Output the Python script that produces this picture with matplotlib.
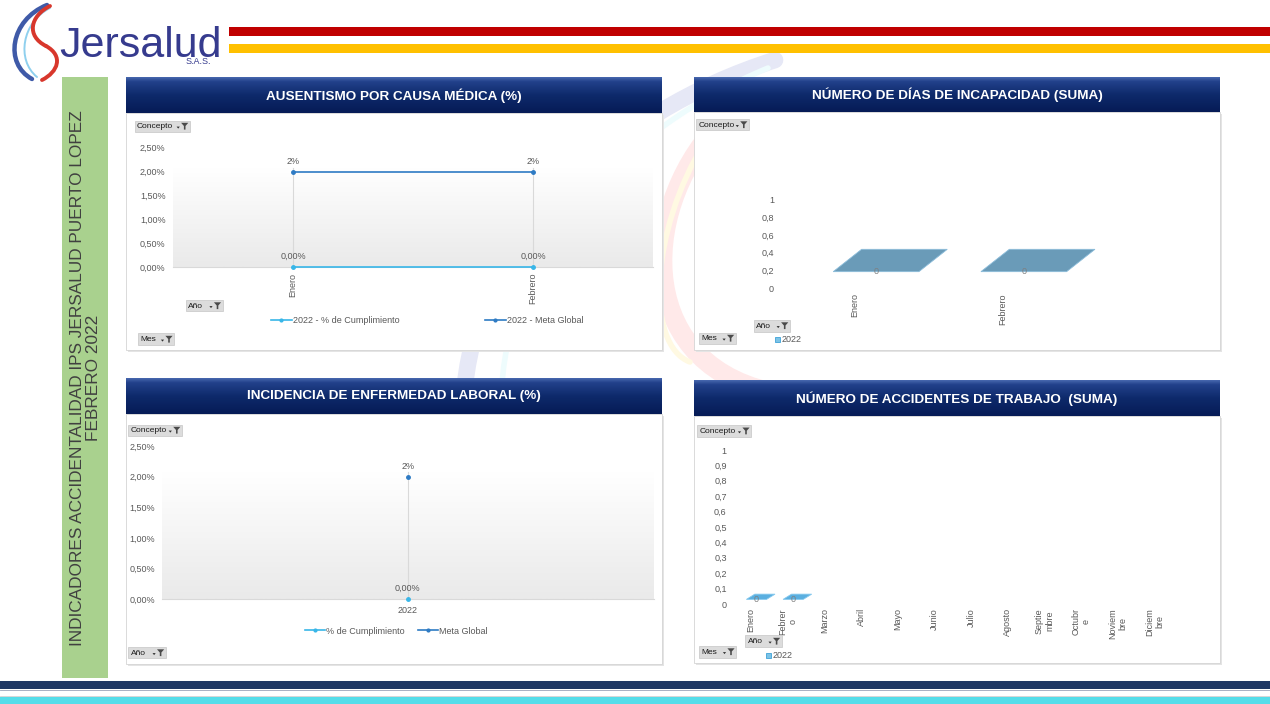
import matplotlib
matplotlib.use('Agg')
import matplotlib.pyplot as plt
import numpy as np
from matplotlib.patches import Rectangle, Polygon, PathPatch, Patch
from matplotlib.path import Path
from matplotlib.colors import LinearSegmentedColormap

plt.rcParams['font.family'] = ['Liberation Sans', 'DejaVu Sans']

# --- DATA ---
meses_ausentismo = ['Enero', 'Febrero']
ausentismo_cumplimiento = [0.0, 0.0]
ausentismo_meta = [0.02, 0.02]

meses_incapacidad = ['Enero', 'Febrero']
dias_incapacidad = [0, 0]

anios_incidencia = ['2022']
incidencia_cumplimiento = [0.0]
incidencia_meta = [0.02]

meses_accidentes = ['Enero', 'Febrer\no', 'Marzo', 'Abril', 'Mayo', 'Junio', 'Julio',
                    'Agosto', 'Septie\nmbre', 'Octubr\ne', 'Noviem\nbre', 'Diciem\nbre']
accidentes_trabajo = [0, 0]  # solo Enero y Febrero tienen dato

ticks_pct = [0, 0.005, 0.01, 0.015, 0.02, 0.025]
ticks_incapacidad = [0, 0.2, 0.4, 0.6, 0.8, 1]
ticks_accidentes = [0, 0.1, 0.2, 0.3, 0.4, 0.5, 0.6, 0.7, 0.8, 0.9, 1]

titulos = ['AUSENTISMO POR CAUSA MÉDICA (%)',
           'NÚMERO DE DÍAS DE INCAPACIDAD (SUMA)',
           'INCIDENCIA DE ENFERMEDAD LABORAL (%)',
           'NÚMERO DE ACCIDENTES DE TRABAJO  (SUMA)']

W, H = 1270, 704
GRIS_TXT = '#595959'
C_CUMPL = '#38B6E8'
C_META = '#2E7BC4'

fig = plt.figure(figsize=(12.7, 7.04), dpi=100, facecolor='white')

# background axes in pixel coordinates (y down)
bg = fig.add_axes([0, 0, 1, 1], zorder=0)
top = fig.add_axes([0, 0, 1, 1], zorder=5)
for a in (bg, top):
    a.set_xlim(0, W)
    a.set_ylim(H, 0)
    a.axis('off')


def ax_px(x0, y0, x1, y1):
    ax = fig.add_axes([x0 / W, 1 - y1 / H, (x1 - x0) / W, (y1 - y0) / H], zorder=2)
    ax.set_facecolor('none')
    for s in ax.spines.values():
        s.set_visible(False)
    ax.tick_params(length=0, labelsize=6.5, colors=GRIS_TXT)
    return ax


def bezier(ax, pts, color, lw, z=1):
    codes = [Path.MOVETO] + [Path.CURVE4] * (len(pts) - 1)
    ax.add_patch(PathPatch(Path(pts, codes), facecolor='none', edgecolor=color,
                           lw=lw, capstyle='round', zorder=z))


def header(x0, y0, x1, y1, titulo):
    cmap = LinearSegmentedColormap.from_list('hdr', [(0, '#4767AD'), (0.12, '#22418B'),
                                                    (0.5, '#0E2A6B'), (1, '#061B56')])
    grad = np.linspace(0, 1, 64).reshape(-1, 1)
    bg.imshow(grad, cmap=cmap, extent=(x0, x1, y1, y0), aspect='auto', zorder=2)
    bg.text((x0 + x1) / 2, (y0 + y1) / 2 + 0.5, titulo, color='white', fontsize=9.7,
            fontweight='bold', ha='center', va='center', zorder=3)


def panel(x0, y0, x1, y1):
    bg.add_patch(Rectangle((x0 + 1.5, y0 + 1.5), x1 - x0, y1 - y0, facecolor='#E4E4E4',
                           edgecolor='none', zorder=1))
    bg.add_patch(Rectangle((x0, y0), x1 - x0, y1 - y0, facecolor='white',
                           edgecolor='#D4D4D4', lw=0.6, zorder=1.1))


def boton(x0, y0, x1, y1, texto):
    yc = (y0 + y1) / 2
    top.add_patch(Rectangle((x0, y0), x1 - x0, y1 - y0, facecolor='#DCDCDC',
                            edgecolor='#C6C6C6', lw=0.5))
    top.text(x0 + 2.5, yc + 0.6, texto, fontsize=6, color='#1A1A1A', ha='left', va='center')
    # small arrow and funnel icon
    xa = x1 - 11.5
    top.add_patch(Polygon([(xa - 1.6, yc + 0.6), (xa + 1.6, yc + 0.6), (xa, yc + 2.6)],
                          facecolor='#303030', edgecolor='none'))
    xf = x1 - 5
    top.add_patch(Polygon([(xf - 3.6, yc - 3.2), (xf + 3.6, yc - 3.2), (xf + 0.8, yc),
                           (xf + 0.8, yc + 3.6), (xf - 0.8, yc + 3.6), (xf - 0.8, yc)],
                          facecolor='#4A4A4A', edgecolor='none'))


def fmt_pct(v):
    return f'{v * 100:.2f}%'.replace('.', ',')


def fmt_dec(v):
    return f'{v:g}'.replace('.', ',')


def gradiente(ax, frac):
    cmap = LinearSegmentedColormap.from_list('pa', ['#FFFFFF', '#EAEAEA'])
    grad = np.linspace(0, 1, 64).reshape(-1, 1)
    ax.imshow(grad, cmap=cmap, extent=(0, 1, 0, frac), transform=ax.transAxes,
              aspect='auto', zorder=0)


def barra_plana(ax, xc, v, hw, depth, front, back, fc, ec):
    # flat 3D column (value 0) seen from above: a parallelogram
    pts = [(xc - hw, v + front), (xc + hw, v + front),
           (xc + hw + depth, v + back), (xc - hw + depth, v + back)]
    ax.add_patch(Polygon(pts, facecolor=fc, edgecolor=ec, lw=0.6, clip_on=False, zorder=3))
    ax.text(xc, v + front, f'{v}', fontsize=6.5, color='#7F7F7F', ha='center',
            va='center', zorder=4, clip_on=False)


# --- DECORATION ---
bg.add_patch(Rectangle((229, 27), W - 229, 9, facecolor='#C00000', edgecolor='none'))
bg.add_patch(Rectangle((229, 43.5), W - 229, 9, facecolor='#FFC000', edgecolor='none'))

# logo swoosh
bezier(bg, [(47, 5), (10, 20), (4, 64), (32, 79)], '#3F5AA8', 3.2)
bezier(bg, [(50, 8), (22, 22), (16, 60), (37, 77)], '#8FD0EE', 1.4)
bezier(bg, [(50, 6), (30, 16), (26, 36), (46, 46)], '#D8372C', 2.8)
bezier(bg, [(46, 46), (64, 56), (58, 72), (42, 80)], '#D8372C', 2.8)
bg.text(59, 57, 'Jersalud', fontsize=31, color='#363B8E', ha='left', va='baseline')
bg.text(186, 61.5, 'S.A.S.', fontsize=6.5, color='#363B8E', ha='left', va='center')

# faint watermark swoosh behind the panels
bezier(bg, [(775, 60), (610, 112), (480, 240), (465, 385)], '#E6E8F6', 12, z=0.5)
bezier(bg, [(768, 68), (625, 127), (510, 250), (502, 385)], '#EEFCFD', 4, z=0.5)
bezier(bg, [(725, 118), (640, 200), (630, 360), (770, 392)], '#FFE9E9', 14, z=0.5)
bezier(bg, [(705, 142), (650, 230), (645, 345), (690, 362)], '#FFF9E2', 4, z=0.5)

# green side band
bg.add_patch(Rectangle((62, 77), 46, 601, facecolor='#A9D18E', edgecolor='none'))
bg.text(85.5, 378, 'INDICADORES ACCIDENTALIDAD IPS JERSALUD PUERTO LOPEZ\nFEBRERO 2022',
        rotation=90, ha='center', va='center', multialignment='center', fontsize=12.4,
        color='#404040', linespacing=1.05)

# bottom bands
bg.add_patch(Rectangle((0, 681), W, 8, facecolor='#1F3864', edgecolor='none'))
bg.plot([0, W], [690, 690], color='#9AA3B8', lw=0.6)
bg.plot([0, W], [696.3, 696.3], color='#D0D0D0', lw=0.6)
bg.add_patch(Rectangle((0, 697), W, 7, facecolor='#55DDE9', edgecolor='none'))

# panels and headers
panel(126, 113, 662, 350)
panel(694, 112, 1220, 350)
panel(126, 414, 662, 664)
panel(694, 416, 1220, 663)
header(126, 77, 662, 113, titulos[0])
header(694, 77, 1220, 112, titulos[1])
header(126, 378, 662, 414, titulos[2])
header(694, 380, 1220, 416, titulos[3])

# --- CHART 1: AUSENTISMO ---
ax1 = ax_px(173, 147.7, 653, 267)
x1 = np.arange(len(meses_ausentismo))
gradiente(ax1, 0.83)
for xi in x1:
    ax1.axvline(xi, ymin=0, ymax=0.83, color='#D9D9D9', lw=0.8, zorder=1)
l_c, = ax1.plot(x1, ausentismo_cumplimiento, color=C_CUMPL, marker='o', ms=2.5, lw=1.2,
                zorder=3, clip_on=False)
l_m, = ax1.plot(x1, ausentismo_meta, color=C_META, marker='o', ms=2.5, lw=1.2, zorder=3)
for xi, v in zip(x1, ausentismo_meta):
    ax1.annotate(f'{v * 100:.0f}%', (xi, v), xytext=(0, 7), textcoords='offset points',
                 ha='center', va='center', fontsize=6.5, color=GRIS_TXT)
for xi, v in zip(x1, ausentismo_cumplimiento):
    ax1.annotate(fmt_pct(v), (xi, v), xytext=(0, 8), textcoords='offset points',
                 ha='center', va='center', fontsize=6.5, color=GRIS_TXT)
ax1.set_xlim(-0.5, len(x1) - 0.5)
ax1.set_ylim(0, 0.025)
ax1.set_yticks(ticks_pct, [fmt_pct(t) for t in ticks_pct])
ax1.set_xticks(x1, meses_ausentismo, rotation=90)
ax1.tick_params(axis='y', pad=5.3)
ax1.tick_params(axis='x', pad=4.3)
ax1.spines['bottom'].set_visible(True)
ax1.spines['bottom'].set_color('#D9D9D9')
ax1.spines['bottom'].set_linewidth(0.8)
ax1.legend([l_c, l_m], ['2022 - % de Cumplimiento', '2022 - Meta Global'], loc='center',
           bbox_to_anchor=(427, 320.7), bbox_transform=bg.transData, ncol=2, frameon=False,
           fontsize=6.5, handlelength=2.3, handletextpad=0.1, columnspacing=9.5,
           markerscale=0.8, labelcolor=GRIS_TXT)

boton(134.6, 120.5, 189.7, 131.5, 'Concepto')
boton(185.6, 300, 222.5, 311, 'Año')
boton(138, 333, 174, 345, 'Mes')

# --- CHART 2: DIAS DE INCAPACIDAD ---
ax2 = ax_px(780.8, 199.3, 1076.2, 288.3)
x2 = np.arange(len(meses_incapacidad))
for xi, v in zip(x2, dias_incapacidad):
    barra_plana(ax2, xi + 0.145, v, 0.29, 0.192, 0.187, 0.438, '#6A9BB8', '#8BBCDA')
ax2.set_xlim(-0.5, len(x2) - 0.5)
ax2.set_ylim(0, 1)
ax2.set_yticks(ticks_incapacidad, [fmt_dec(t) for t in ticks_incapacidad])
ax2.set_xticks(x2, meses_incapacidad, rotation=90)
ax2.tick_params(axis='y', pad=4.9)
ax2.tick_params(axis='x', pad=3.4)
ax2.legend([Patch(facecolor='#7CC3E6', edgecolor='#3FA3D8', lw=0.6)], ['2022'], loc='center',
           bbox_to_anchor=(788, 340), bbox_transform=bg.transData, frameon=False,
           fontsize=6.5, handlelength=0.55, handleheight=0.55, handletextpad=0.15,
           labelcolor=GRIS_TXT)

boton(695.7, 119, 748.8, 130, 'Concepto')
boton(753.9, 319.5, 789.7, 331.5, 'Año')
boton(699, 332.5, 735.6, 343.5, 'Mes')

# --- CHART 3: INCIDENCIA ENFERMEDAD LABORAL ---
ax3 = ax_px(162.2, 446, 653.6, 599.3)
x3 = np.arange(len(anios_incidencia))
gradiente(ax3, 0.83)
for xi in x3:
    ax3.axvline(xi, ymin=0, ymax=0.83, color='#D9D9D9', lw=0.8, zorder=1)
p_c, = ax3.plot(x3, incidencia_cumplimiento, color=C_CUMPL, marker='o', ms=2.5, lw=1.2,
                zorder=3, clip_on=False)
p_m, = ax3.plot(x3, incidencia_meta, color=C_META, marker='o', ms=2.5, lw=1.2, zorder=3)
for xi, v in zip(x3, incidencia_meta):
    ax3.annotate(f'{v * 100:.0f}%', (xi, v), xytext=(0, 7.6), textcoords='offset points',
                 ha='center', va='center', fontsize=6.5, color=GRIS_TXT)
for xi, v in zip(x3, incidencia_cumplimiento):
    ax3.annotate(fmt_pct(v), (xi, v), xytext=(0, 8), textcoords='offset points',
                 ha='center', va='center', fontsize=6.5, color=GRIS_TXT)
ax3.set_xlim(-0.5, len(x3) - 0.5)
ax3.set_ylim(0, 0.025)
ax3.set_yticks(ticks_pct, [fmt_pct(t) for t in ticks_pct])
ax3.set_xticks(x3, anios_incidencia)
ax3.tick_params(axis='y', pad=5)
ax3.tick_params(axis='x', pad=4.8)
ax3.spines['bottom'].set_visible(True)
ax3.spines['bottom'].set_color('#D9D9D9')
ax3.spines['bottom'].set_linewidth(0.8)
ax3.legend([p_c, p_m], ['% de Cumplimiento', 'Meta Global'], loc='center',
           bbox_to_anchor=(396, 631), bbox_transform=bg.transData, ncol=2, frameon=False,
           fontsize=6.5, handlelength=2.2, handletextpad=0.1, columnspacing=1.5,
           markerscale=0.8, labelcolor=GRIS_TXT)

boton(128.4, 424.5, 181.8, 435.5, 'Concepto')
boton(128.4, 647, 165.6, 658, 'Año')

# --- CHART 4: ACCIDENTES DE TRABAJO ---
ax4 = ax_px(732.7, 450, 1173, 604)
x4 = np.arange(len(meses_accidentes))
for xi, v in zip(x4, accidentes_trabajo):
    barra_plana(ax4, xi + 0.148, v, 0.275, 0.23, 0.03, 0.064, '#5AAFE0', '#86C9EE')
ax4.set_xlim(-0.5, len(x4) - 0.5)
ax4.set_ylim(0, 1)
ax4.set_yticks(ticks_accidentes, [fmt_dec(t) for t in ticks_accidentes])
ax4.set_xticks(x4, meses_accidentes, rotation=90, linespacing=1.2)
ax4.tick_params(axis='y', pad=4.3)
ax4.tick_params(axis='x', pad=2.9)
ax4.legend([Patch(facecolor='#7CC3E6', edgecolor='#3FA3D8', lw=0.6)], ['2022'], loc='center',
           bbox_to_anchor=(779, 656), bbox_transform=bg.transData, frameon=False,
           fontsize=6.5, handlelength=0.55, handleheight=0.55, handletextpad=0.15,
           labelcolor=GRIS_TXT)

boton(697, 425, 751, 436.5, 'Concepto')
boton(745.4, 635, 781.6, 647, 'Año')
boton(699, 645.5, 736, 657.5, 'Mes')

fig.savefig('out.png', dpi=100, facecolor='white')
